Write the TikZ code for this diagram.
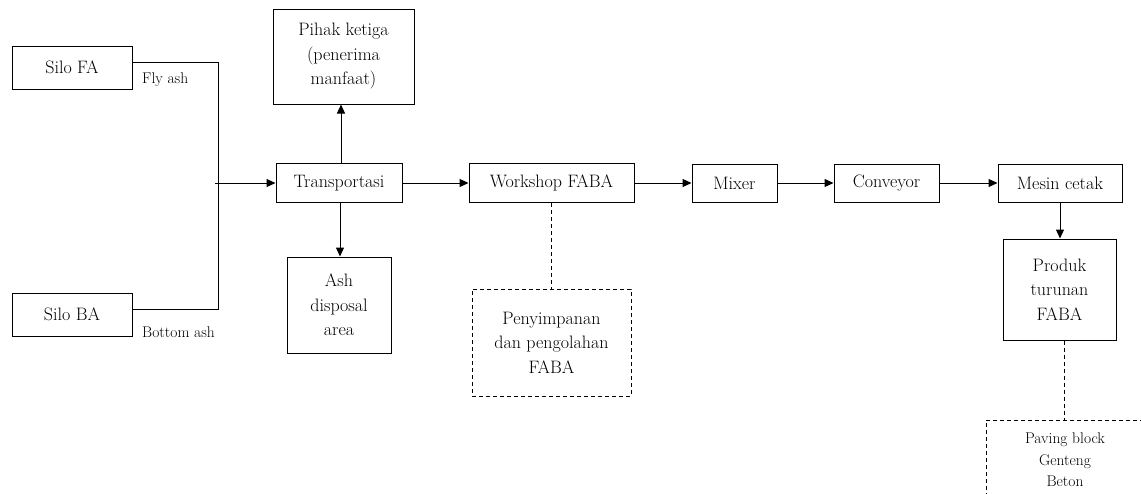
\documentclass[tikz,border=0pt]{standalone}
\usepackage{tikz}
\usetikzlibrary{arrows.meta, positioning}

\begin{document}
\begin{tikzpicture}[x=1pt, y=-1pt,
    box/.style={rectangle, draw, line width=1pt, align=center, font=\fontsize{18}{24.5}\selectfont, inner sep=2pt},
    dashbox/.style={box, dash pattern=on 4pt off 3pt},
    note/.style={font=\fontsize{15.5}{21}\selectfont, inner sep=0pt},
    arrow/.style={-{Triangle[length=9pt,width=8pt]}, line width=1pt},
    link/.style={line width=1pt, dash pattern=on 4pt off 3pt}
]
    \useasboundingbox (0,0) rectangle (1141,493);

    \node[box, minimum width=120pt, minimum height=43pt] (silofa) at (72,67.5) {Silo FA};
    \node[box, minimum width=120pt, minimum height=43pt] (siloba) at (72,314.5) {Silo BA};
    \node[note, anchor=west] (lblfly) at (142,80) {Fly ash};
    \node[note, anchor=west] (lblbottom) at (142,332) {Bottom ash};

    \node[box, minimum width=126pt, minimum height=39pt] (trans) at (339,183) {Transportasi};
    \node[box, minimum width=141pt, minimum height=95pt] (pihak) at (343.5,56.5) {Pihak ketiga\\(penerima\\manfaat)};
    \node[box, minimum width=104pt, minimum height=96pt] (ash) at (339,305) {Ash\\disposal\\area};
    \node[box, minimum width=165pt, minimum height=39pt] (workshop) at (551.5,183) {Workshop FABA};
    \node[dashbox, minimum width=159pt, minimum height=107pt] (simpan) at (551.5,342.5) {Penyimpanan\\dan pengolahan\\FABA};
    \node[box, minimum width=85pt, minimum height=38pt] (mixer) at (734.5,183) {Mixer};
    \node[box, minimum width=105pt, minimum height=38pt] (conveyor) at (886.5,183) {Conveyor};
    \node[box, minimum width=124pt, minimum height=38pt] (mesin) at (1060,183) {Mesin cetak};
    \node[box, minimum width=113pt, minimum height=101pt] (produk) at (1059.5,289.5) {Produk\\turunan\\FABA};
    \node[dashbox, font=\fontsize{15.5}{21.5}\selectfont, minimum width=158pt, minimum height=80pt] (paving) at (1065,460) {Paving block\\Genteng\\Beton};

    % silo lines join before transport
    \coordinate (merge) at (218,183);
    \draw[line width=1pt] ([yshift=5.5pt]silofa.east) -| (merge);
    \draw[line width=1pt] ([yshift=5.5pt]siloba.east) -| (merge);
    \draw[arrow] ([xshift=-3pt]merge) -- (trans);

    \draw[arrow] ([xshift=2pt]trans.north) -- ([xshift=2pt]trans.north |- pihak.south);
    \draw[arrow] ([xshift=1pt]trans.south) -- ([xshift=1pt]trans.south |- ash.north);
    \draw[arrow] (trans) -- (workshop);
    \draw[link] (workshop.south) -- (workshop.south |- simpan.north);
    \draw[arrow] (workshop) -- (mixer);
    \draw[arrow] (mixer) -- (conveyor);
    \draw[arrow] (conveyor) -- (mesin);
    \draw[arrow] (mesin.south) -- (mesin.south |- produk.north);
    \draw[link] ([xshift=5pt]produk.south) -- ([xshift=5pt]produk.south |- paving.north);
\end{tikzpicture}
\end{document}
